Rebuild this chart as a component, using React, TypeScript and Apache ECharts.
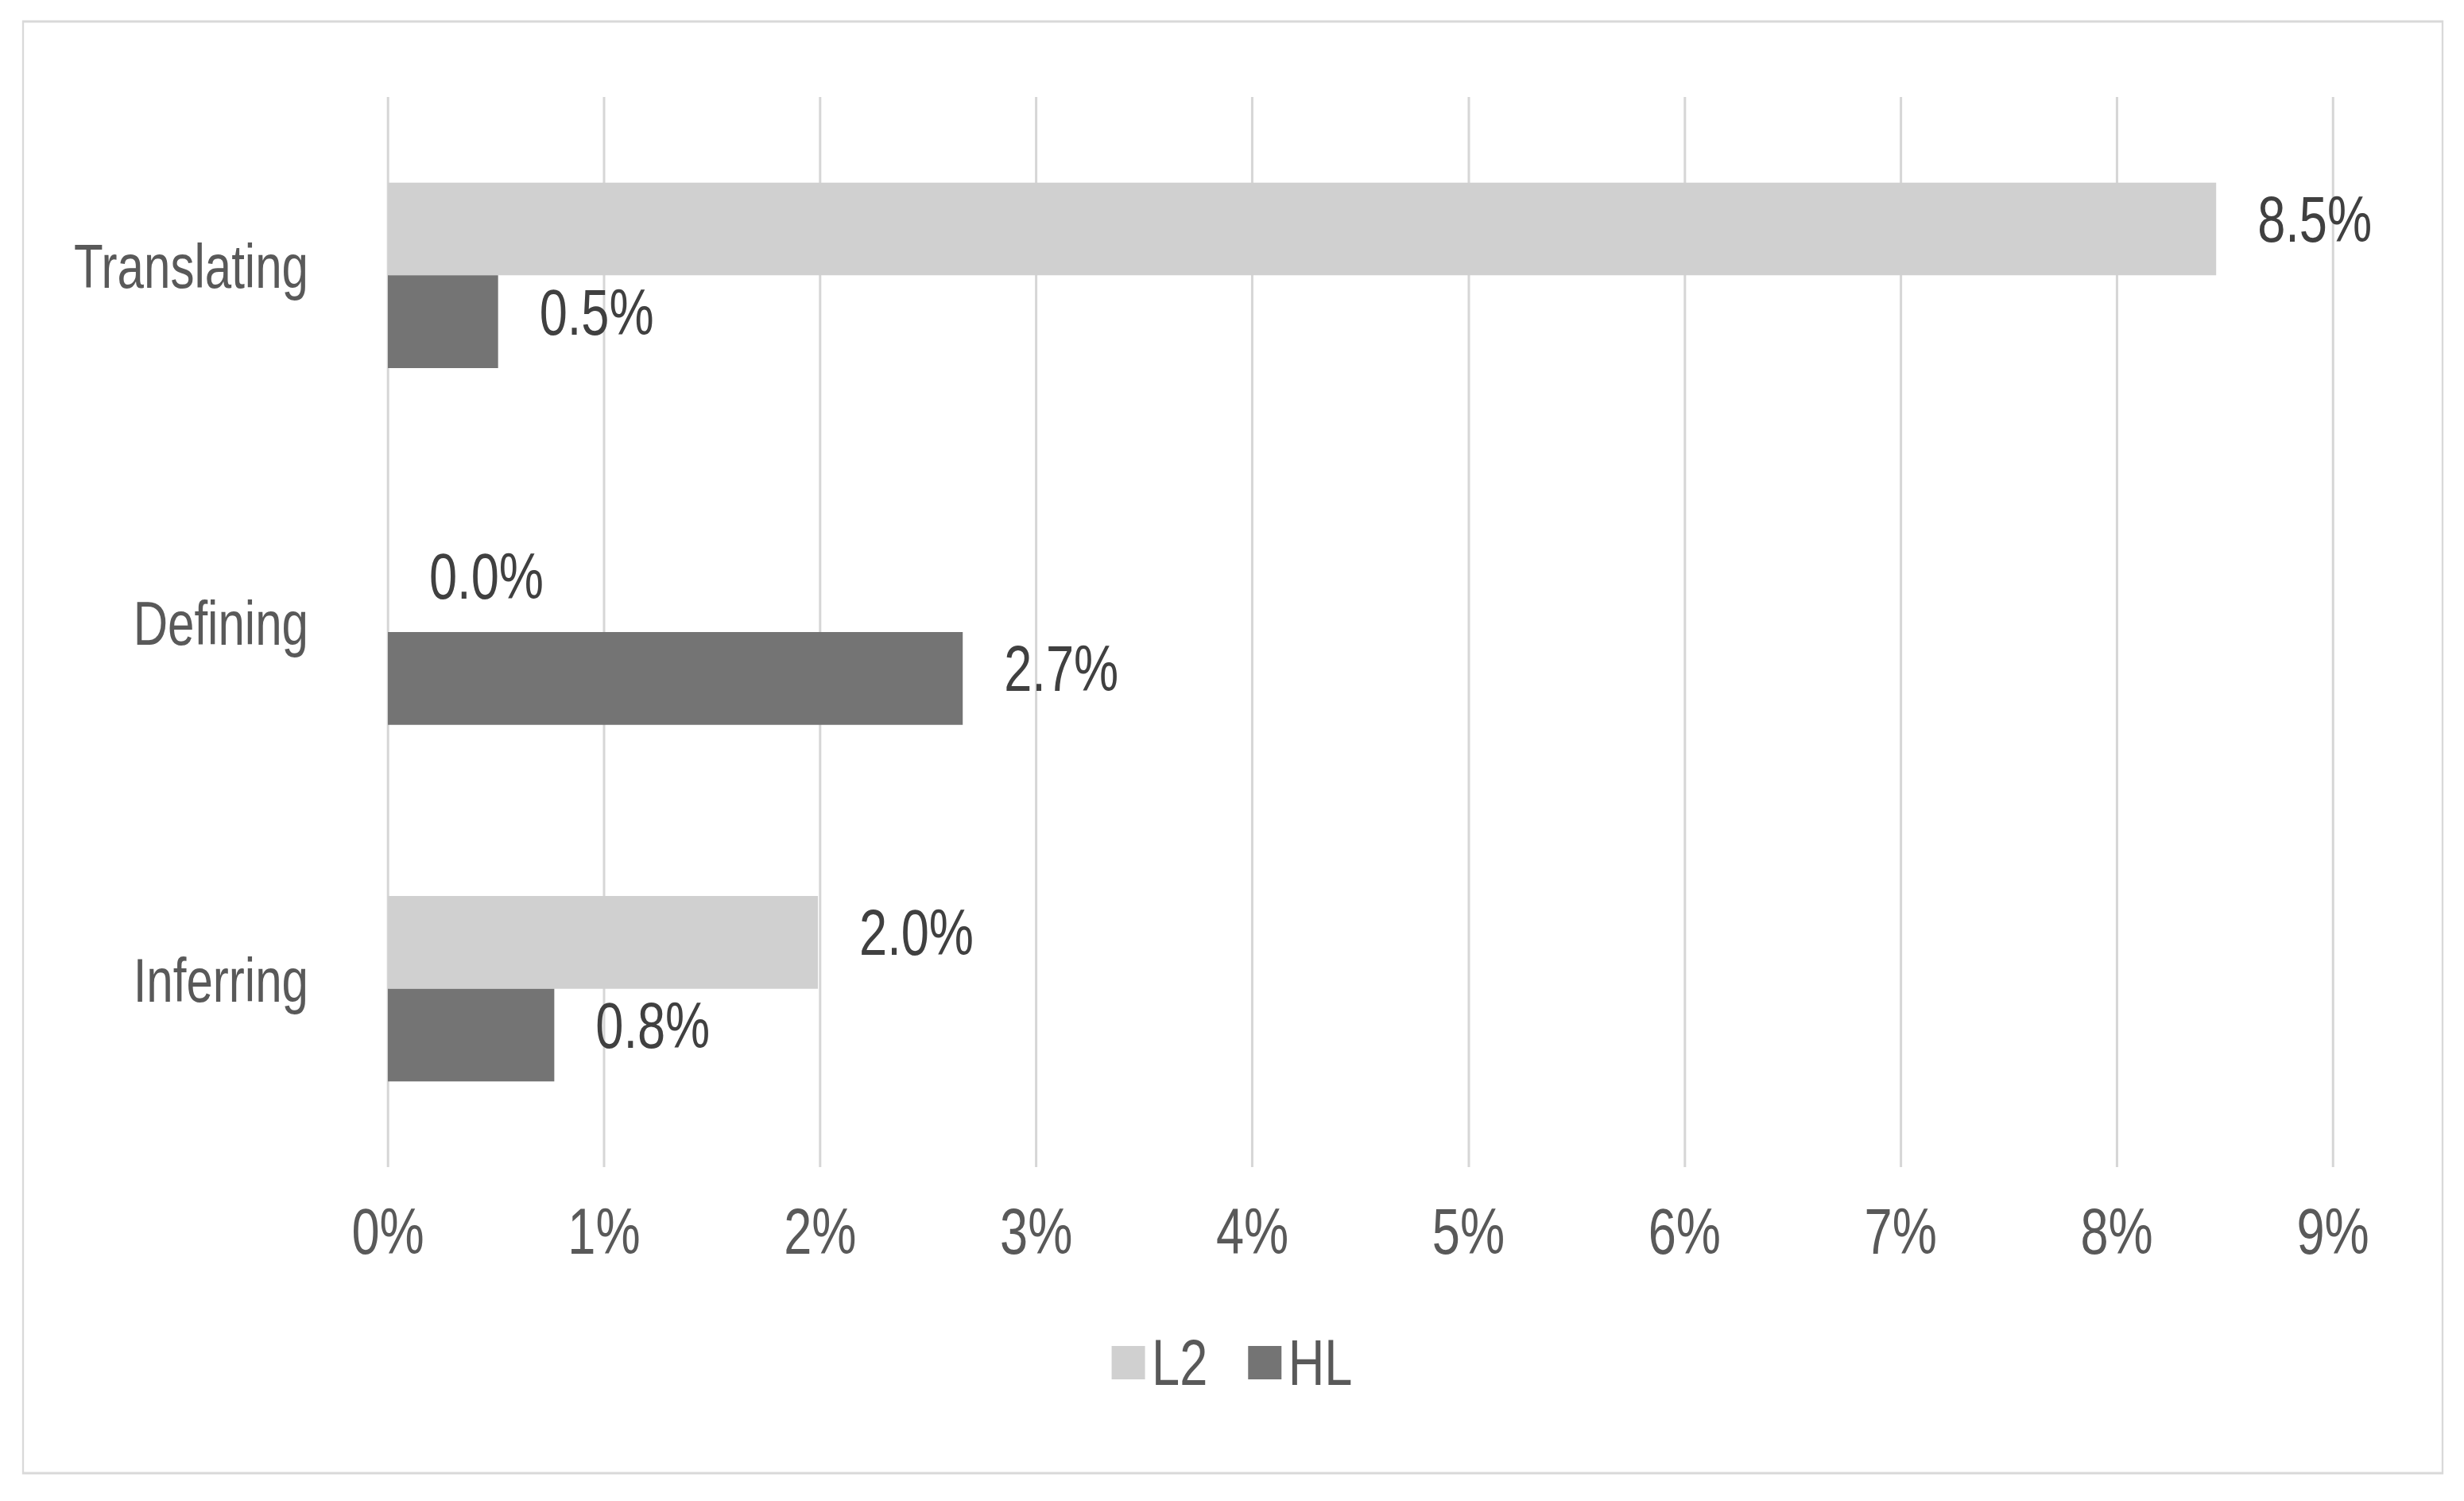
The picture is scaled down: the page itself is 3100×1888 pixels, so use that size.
import React, { useEffect, useRef } from "react";
import * as echarts from "echarts";

const categories = ["Translating", "Defining", "Inferring"];
const seriesNames = ["L2", "HL"];
const l2Values = [0.0846, 0.0, 0.0199];
const hlValues = [0.0051, 0.0266, 0.0077];
const xTicks = [0, 0.01, 0.02, 0.03, 0.04, 0.05, 0.06, 0.07, 0.08, 0.09];
const colors = ["#d0d0d0", "#747474"];

const FONT = '"Liberation Sans", Arial, sans-serif';
// the reference's lettering is horizontally condensed; the whole chart is
// laid out in a wider space and squeezed horizontally by SX
const SX = 0.77;
const W = 3100 / SX;
const H = 1888;
const hx = (v: number) => v / SX;

export default function App() {
  const ref = useRef<HTMLDivElement>(null);
  useEffect(() => {
    document.body.style.margin = "0";
    document.body.style.overflow = "hidden";
    document.documentElement.style.overflow = "hidden";
    const chart = echarts.init(ref.current!, null, { renderer: "svg" });
    const pct1 = (p: any) => (p.value * 100).toFixed(1) + "%";
    const dataLabel = {
      show: true,
      position: "right",
      distance: hx(52),
      fontSize: 82,
      color: "#404040",
      fontFamily: FONT,
      offset: [0, -12],
      formatter: pct1,
    };
    chart.setOption({
      animation: false,
      backgroundColor: "#ffffff",
      textStyle: { fontFamily: FONT },
      graphic: [
        {
          type: "rect",
          shape: { x: hx(29), y: 27, width: hx(3044), height: 1826 },
          style: { fill: "none", stroke: "#d9d9d9", lineWidth: 3 },
          silent: true,
        },
      ],
      grid: { left: hx(488), right: hx(165), top: 122, bottom: 420, containLabel: false },
      legend: {
        data: seriesNames,
        left: "center",
        top: 1668,
        icon: "rect",
        itemWidth: hx(42),
        itemHeight: 42,
        itemGap: hx(51),
        textStyle: { fontSize: 82, color: "#595959", fontFamily: FONT, padding: [0, 0, 0, 6] },
      },
      xAxis: {
        type: "value",
        min: xTicks[0],
        max: xTicks[xTicks.length - 1],
        interval: 0.01,
        axisLine: { show: false },
        axisTick: { show: false },
        splitLine: { show: true, lineStyle: { color: "#d6d6d6", width: hx(3) } },
        axisLabel: {
          fontSize: 82,
          color: "#595959",
          fontFamily: FONT,
          margin: 40,
          formatter: (v: number) => Math.round(v * 100) + "%",
        },
      },
      yAxis: {
        type: "category",
        data: categories,
        inverse: true,
        axisLine: { show: false },
        axisTick: { show: false },
        splitLine: { show: false },
        axisLabel: {
          fontSize: 78,
          color: "#595959",
          fontFamily: FONT,
          margin: hx(100),
          formatter: (v: string) => "{c|" + v + "}",
          rich: {
            c: {
              fontSize: 78,
              color: "#595959",
              fontFamily: FONT,
              padding: [0, 0, 22, 0],
            },
          },
        },
      },
      series: [
        {
          name: seriesNames[0],
          type: "bar",
          data: l2Values,
          itemStyle: { color: colors[0] },
          barGap: "0%",
          barCategoryGap: "48%",
          label: dataLabel,
        },
        {
          name: seriesNames[1],
          type: "bar",
          data: hlValues,
          itemStyle: { color: colors[1] },
          barGap: "0%",
          barCategoryGap: "48%",
          label: dataLabel,
        },
      ],
    });
    return () => chart.dispose();
  }, []);
  return (
    <div
      ref={ref}
      style={{
        position: "fixed",
        left: 0,
        top: 0,
        width: W,
        height: H,
        transform: `scaleX(${SX})`,
        transformOrigin: "0 0",
      }}
    />
  );
}
